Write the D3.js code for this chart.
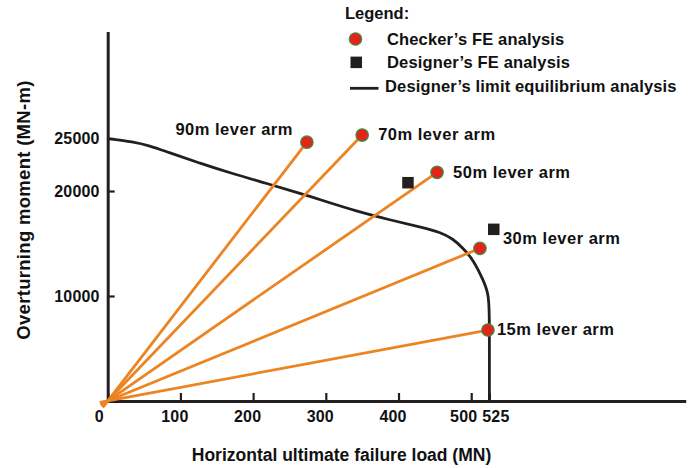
<!DOCTYPE html>
<html>
<head>
<meta charset="utf-8">
<script src="https://cdn.jsdelivr.net/npm/d3@7"></script>
<style>
  html, body { margin: 0; padding: 0; background: #fff; }
  svg { display: block; }
  text { font-family: "Liberation Sans", Arial, sans-serif; font-weight: bold; fill: #111; }
</style>
</head>
<body>
<svg id="chart" width="694" height="468"></svg>
<script>
// ---------- data ----------
const leverArms       = ["90m lever arm", "70m lever arm", "50m lever arm", "30m lever arm", "15m lever arm"];
const checkerLoad     = [274, 350, 453, 512, 523];
const checkerMoment   = [24650, 25330, 21780, 14540, 6760];

const designerFELoad   = [413, 531];
const designerFEMoment = [20790, 16350];

const limitLoad   = [0, 35, 58, 81, 127, 173, 219, 264, 297, 342, 388, 434, 457, 475, 489, 503, 516.6, 523.5, 525, 525, 525];
const limitMoment = [25000, 24700, 24310, 23740, 22640, 21620, 20720, 19800, 19060, 18080, 17250, 16500, 16080, 15450, 14540, 13430, 11520, 10260, 8670, 4000, 0];

const xTickValues = [0, 100, 200, 300, 400, 500, 525];
const yTickValues = [10000, 20000, 25000];

const legendLabels = ["Checker\u2019s FE analysis", "Designer\u2019s FE analysis", "Designer\u2019s limit equilibrium analysis"];

// label placement relative to each checker point (layout, not data)
const labelLayout = [
  {dx: -14, dy: -7, anchor: "end"},
  {dx: 16,  dy: 5,  anchor: "start"},
  {dx: 16,  dy: 6,  anchor: "start"},
  {dx: 23,  dy: -4, anchor: "start"},
  {dx: 9,   dy: 5,  anchor: "start"}
];

// ---------- scales ----------
const svg = d3.select("#chart");
const x = d3.scaleLinear().domain([0, 795]).range([107.7, 685.7]);
const y = d3.scaleLinear().domain([0, 35200]).range([401, 31.4]);

const AX = "#231f20";
const ORANGE = "#ec8422";

// ---------- axes ----------
const xAxis = svg.append("g").attr("transform", `translate(0,${y(0)})`)
  .call(d3.axisBottom(x).tickValues(xTickValues).tickSize(-8).tickSizeOuter(0).tickPadding(10).tickFormat(d3.format("d")));
const yAxis = svg.append("g").attr("transform", `translate(${x(0)},0)`)
  .call(d3.axisLeft(y).tickValues(yTickValues).tickSize(-7).tickSizeOuter(0).tickPadding(8).tickFormat(d3.format("d")));

[xAxis, yAxis].forEach(g => {
  g.select(".domain").attr("stroke", AX).attr("stroke-width", 3);
  g.selectAll(".tick line").attr("stroke", AX).attr("stroke-width", 2.2);
  g.selectAll(".tick text").style("font-size", "16px").style("font-family", "'Liberation Sans', Arial, sans-serif")
    .style("font-weight", "bold").style("letter-spacing", "0.2px").attr("fill", "#111");
});
// hand-placed x tick labels in the original
xAxis.selectAll(".tick text").attr("dx", d => d === 0 ? -9 : d === 525 ? 6 : d === 500 ? -8 : -6);

// axis titles
svg.append("text")
  .attr("x", 341.5).attr("y", 461)
  .attr("text-anchor", "middle")
  .style("font-size", "17.5px")
  .text("Horizontal ultimate failure load (MN)");

svg.append("text")
  .attr("transform", "translate(30,210) rotate(-90)")
  .attr("text-anchor", "middle")
  .style("font-size", "18.5px")
  .style("letter-spacing", "0.3px")
  .text("Overturning moment (MN-m)");

// ---------- limit equilibrium curve ----------
const limitData = limitLoad.map((v, i) => [v, limitMoment[i]]);
svg.append("path")
  .datum(limitData)
  .attr("fill", "none")
  .attr("stroke", AX)
  .attr("stroke-width", 2.8)
  .attr("d", d3.line().x(d => x(d[0])).y(d => y(d[1])).curve(d3.curveBasis));

// ---------- lever-arm rays ----------
const checker = checkerLoad.map((v, i) => ({load: v, moment: checkerMoment[i], label: leverArms[i], lay: labelLayout[i]}));
svg.append("g").selectAll("line")
  .data(checker)
  .join("line")
  .attr("x1", d => {
    const px = x(d.load) - x(0), py = y(d.moment) - y(0), L = Math.hypot(px, py);
    return x(0) - 8 * px / L;
  })
  .attr("y1", d => {
    const px = x(d.load) - x(0), py = y(d.moment) - y(0), L = Math.hypot(px, py);
    return y(0) - 8 * py / L;
  })
  .attr("x2", d => x(d.load))
  .attr("y2", d => y(d.moment))
  .attr("stroke", ORANGE)
  .attr("stroke-width", 2.8);

// checker points
svg.append("g").selectAll("circle")
  .data(checker)
  .join("circle")
  .attr("cx", d => x(d.load))
  .attr("cy", d => y(d.moment))
  .attr("r", 6.3)
  .attr("fill", "#e1251b")
  .attr("stroke", "#2f9a4c")
  .attr("stroke-width", 1.1);

// designer FE squares
const designer = designerFELoad.map((v, i) => ({load: v, moment: designerFEMoment[i]}));
svg.append("g").selectAll("rect")
  .data(designer)
  .join("rect")
  .attr("x", d => x(d.load) - 5.75)
  .attr("y", d => y(d.moment) - 5.75)
  .attr("width", 11.5)
  .attr("height", 11.5)
  .attr("fill", "#231f20");

// lever-arm labels
svg.append("g").selectAll("text")
  .data(checker)
  .join("text")
  .attr("x", d => x(d.load) + d.lay.dx)
  .attr("y", d => y(d.moment) + d.lay.dy)
  .attr("text-anchor", d => d.lay.anchor)
  .style("font-size", "16.5px")
  .style("letter-spacing", "0.5px")
  .text(d => d.label);

// ---------- legend ----------
const lg = svg.append("g");
lg.append("text").attr("x", 345).attr("y", 18.5).style("font-size", "16.5px").text("Legend:");
const rowY = [45, 68.3, 91.7];
lg.append("circle").attr("cx", 355.5).attr("cy", rowY[0] - 6).attr("r", 6.3)
  .attr("fill", "#e1251b").attr("stroke", "#2f9a4c").attr("stroke-width", 1.1);
lg.append("rect").attr("x", 350.5).attr("y", rowY[1] - 11.7).attr("width", 11.5).attr("height", 11.5).attr("fill", "#231f20");
lg.append("line").attr("x1", 350).attr("x2", 378.5).attr("y1", rowY[2] - 3.4).attr("y2", rowY[2] - 3.4)
  .attr("stroke", AX).attr("stroke-width", 2.8);
lg.selectAll("text.item")
  .data(legendLabels)
  .join("text")
  .attr("class", "item")
  .attr("x", (d, i) => i === 2 ? 385 : 387)
  .attr("y", (d, i) => rowY[i])
  .style("font-size", "16.5px")
  .style("letter-spacing", "0.15px")
  .text(d => d);
</script>
</body>
</html>
